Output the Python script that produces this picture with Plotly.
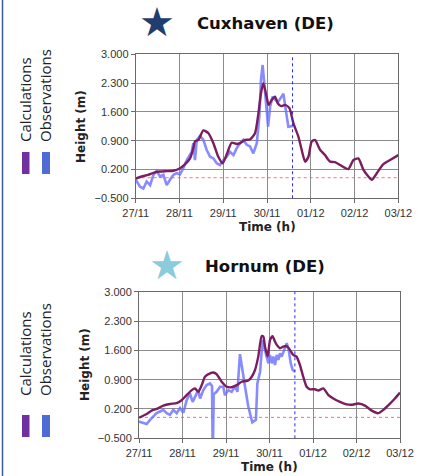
import plotly.graph_objects as go

W, H = 427, 476

# ---------------- data (hours since 27/11 00:00, height in m) ----------------
cux_calc_t = [0, 3.3, 6.9, 9.7, 13.3, 17.0, 20.7, 24.3, 27.1, 29.8, 31.6, 32.5, 34.4, 37.1, 39.9,
              42.6, 45.3, 47.7, 50.1, 52.6, 55.4, 57.2, 60.0, 62.7, 65.4, 67.3, 68.7, 70.0, 71.8,
              72.9, 74.6, 76.4, 77.9, 79.7, 81.9, 84.3, 86.5, 89.2, 91.0, 92.9, 94.7, 96.5, 98.3,
              101.1, 103.8, 106.6, 109.3, 112.1, 116.6, 119.4, 122.1, 124.9, 127.6, 129.5, 132.2,
              135.8, 139.5, 144]
cux_calc_h = [-0.02, 0.03, 0.07, 0.12, 0.15, 0.16, 0.17, 0.23, 0.33, 0.47, 0.72, 0.88, 0.92, 1.15,
              1.08, 0.84, 0.51, 0.35, 0.59, 0.85, 0.82, 0.84, 0.92, 0.93, 1.08, 1.57, 2.05, 2.30,
              1.97, 1.77, 1.89, 1.97, 1.81, 1.74, 1.77, 1.69, 1.32, 1.00, 0.68, 0.39, 0.51, 0.88,
              0.92, 0.68, 0.55, 0.39, 0.38, 0.31, 0.21, 0.43, 0.47, 0.19, 0.03, -0.05, 0.11, 0.33,
              0.43, 0.55]

cux_obs_t = [0, 2.4, 4.2, 6.0, 7.9, 9.7, 11.5, 13.3, 15.2, 17.0, 18.8, 20.7, 22.5, 24.3, 26.1,
             28.0, 30.7, 31.6, 32.5, 33.5, 35.3, 37.1, 38.9, 40.8, 42.6, 44.4, 46.2, 48.1, 49.9,
             51.7, 53.6, 55.4, 57.2, 59.0, 60.9, 62.7, 64.5, 66.4, 67.8, 68.7, 69.6, 70.6, 71.8,
             72.6, 73.7, 75.1, 76.6, 78.2, 79.7, 81.0, 82.3, 83.7, 86.1]
cux_obs_h = [-0.05, -0.22, -0.26, -0.09, -0.18, 0.07, 0.17, 0.03, 0.07, -0.18, -0.05, 0.07, 0.11,
             0.08, 0.23, 0.43, 0.63, 0.84, 0.43, 0.92, 1.02, 0.92, 0.68, 0.51, 0.47, 0.35, 0.31,
             0.43, 0.51, 0.63, 0.55, 0.72, 0.84, 0.92, 0.80, 0.76, 0.59, 0.84, 1.49, 2.38, 2.74,
             2.30, 1.65, 1.24, 1.73, 1.97, 1.89, 1.85, 1.97, 2.04, 1.65, 1.24, 1.26]

hor_calc_t = [0, 4.2, 7.0, 9.7, 13.4, 17.1, 20.8, 23.5, 26.3, 29.1, 30.9, 32.7, 34.6, 36.4, 39.2,
              41.0, 42.8, 45.6, 48.4, 51.1, 53.9, 56.6, 60.3, 62.2, 64.0, 65.8, 67.7, 68.6, 69.5,
              71.0, 72.3, 73.7, 75.0, 76.0, 77.8, 79.6, 81.5, 83.3, 85.1, 86.9, 88.8, 90.6, 92.5,
              94.3, 97.1, 98.9, 101.7, 104.5, 107.2, 110.9, 114.6, 117.3, 121.0, 124.7, 128.4,
              132.0, 134.8, 138.5, 141.2, 144]
hor_calc_h = [-0.01, 0.08, 0.16, 0.20, 0.28, 0.32, 0.34, 0.41, 0.53, 0.65, 0.69, 0.61, 0.77, 0.97,
              1.05, 1.07, 1.03, 0.85, 0.73, 0.72, 0.77, 0.85, 0.88, 0.97, 1.13, 1.45, 1.94, 1.93,
              1.69, 1.45, 1.85, 1.94, 1.81, 1.73, 1.65, 1.69, 1.70, 1.61, 1.49, 1.45, 1.25, 0.97,
              0.73, 0.67, 0.67, 0.64, 0.69, 0.53, 0.45, 0.37, 0.31, 0.30, 0.33, 0.28, 0.16, 0.10,
              0.18, 0.33, 0.45, 0.59]

hor_obs_t = [0, 2.4, 4.2, 6.1, 7.9, 9.7, 11.6, 13.4, 15.3, 17.1, 18.9, 20.8, 22.6, 24.5, 26.3,
             28.1, 29.6, 30.9, 32.7, 33.7, 35.5, 37.3, 39.2, 40.3, 40.7, 41.2, 42.8, 44.7, 46.5,
             47.4, 49.3, 51.1, 53.0, 54.3, 55.7, 58.5, 60.3, 62.5, 64.5, 65.3, 66.8, 68.2, 69.5,
             70.4, 71.4, 72.3, 73.2, 74.1, 75.0, 76.0, 76.9, 77.8, 78.7, 80.0, 81.5, 82.6, 83.7,
             84.8, 86.1]
hor_obs_h = [-0.10, -0.13, -0.16, -0.06, 0.03, 0.10, 0.14, 0.18, 0.10, 0.06, 0.18, 0.10, 0.22,
             0.11, 0.41, 0.57, 0.37, 0.49, 0.65, 0.45, 0.65, 0.77, 0.81, 0.75, -1.0, 0.55, 0.61,
             0.73, 0.73, 0.53, 0.65, 0.61, 0.73, 0.61, 1.51, 0.73, 0.26, -0.12, -0.06, 0.81, 1.09,
             1.85, 1.57, 1.45, 1.29, 1.49, 1.29, 1.45, 1.25, 1.49, 1.37, 1.53, 1.45, 1.61, 1.77,
             1.61, 1.29, 1.13, 1.09]

day_ticks = [0, 24, 48, 72, 96, 120, 144]
day_labels = ["27/11", "28/11", "29/11", "30/11", "01/12", "02/12", "03/12"]
height_ticks = [-0.5, 0.2, 0.9, 1.6, 2.3, 3.0]
forecast_start = 86
titles = ["Cuxhaven (DE)", "Hornum (DE)"]
star_colors = ["#1f3d6e", "#8ccbdc"]

CALC = "#7b1e5f"
OBS = "rgba(105,110,255,0.8)"
CALC_BAR = "#7030a0"
OBS_BAR = "#4f6cd6"


def px(x):
    return x / W


def py(y):
    return 1 - y / H


fig = go.Figure()

# panel geometry in pixels: (left, right, top, bottom)
panels = [(135.7, 398.3, 54.3, 198.3), (139.0, 400.0, 291.7, 438.3)]
data = [(cux_calc_t, cux_calc_h, cux_obs_t, cux_obs_h),
        (hor_calc_t, hor_calc_h, hor_obs_t, hor_obs_h)]

annotations = []
shapes = []
for i, ((l, r, t, b), (ct, ch, ot, oh)) in enumerate(zip(panels, data)):
    xa = "x" if i == 0 else "x2"
    ya = "y" if i == 0 else "y2"
    fig.add_trace(go.Scatter(x=ot, y=oh, mode="lines", line=dict(color=OBS, width=2.6),
                             xaxis=xa, yaxis=ya, showlegend=False, hoverinfo="skip"))
    fig.add_trace(go.Scatter(x=ct, y=ch, mode="lines", line=dict(color=CALC, width=2.4, shape="spline", smoothing=0.6),
                             xaxis=xa, yaxis=ya, showlegend=False, hoverinfo="skip"))
    axis_common = dict(showgrid=True, gridcolor="#8c8c8c", gridwidth=1, showline=True,
                       linecolor="#6a6a6a", linewidth=1, mirror=True, ticks="outside",
                       ticklen=4, tickcolor="#6a6a6a", automargin=False,
                       tickfont=dict(family="Liberation Sans, Arial", size=11, color="#333"),
                       zeroline=False, fixedrange=True)
    xkey = "xaxis" if i == 0 else "xaxis2"
    ykey = "yaxis" if i == 0 else "yaxis2"
    fig.layout[xkey] = dict(axis_common, domain=[px(l), px(r)], range=[0, 144],
                            tickvals=day_ticks, ticktext=day_labels, anchor=ya)
    fig.layout[ykey] = dict(axis_common, domain=[py(b), py(t)], range=[-0.5, 3.0],
                            tickvals=height_ticks, tickformat=".3f", anchor=xa)
    # reference lines
    shapes.append(dict(type="line", xref=xa, yref=ya, x0=0, x1=144, y0=0, y1=0, layer="below",
                       line=dict(color="#ff6f6f", width=1, dash="dot")))
    shapes.append(dict(type="line", xref=xa, yref=ya, x0=forecast_start, x1=forecast_start,
                       y0=-0.5, y1=3.0, line=dict(color="#2a2aff", width=1, dash="dot")))
    # axis titles
    annotations.append(dict(text="<b>Height (m)</b>", xref="paper", yref="paper",
                            x=px(l - 54), y=py((t + b) / 2), textangle=-90, showarrow=False,
                            xanchor="center", yanchor="middle",
                            font=dict(family="DejaVu Sans", size=12, color="#222")))
    annotations.append(dict(text="<b>Time (h)</b>", xref="paper", yref="paper",
                            x=px((l + r) / 2), y=py(b + 29), showarrow=False,
                            xanchor="center", yanchor="middle",
                            font=dict(family="DejaVu Sans", size=12, color="#222")))
    # titles + star
    ty = 23 if i == 0 else 266
    annotations.append(dict(text="<b>" + titles[i] + "</b>", xref="paper", yref="paper",
                            x=px(265), y=py(ty), showarrow=False, xanchor="center", yanchor="middle",
                            font=dict(family="DejaVu Sans", size=16.5, color="#111")))
    annotations.append(dict(text="\u2605", xref="paper", yref="paper",
                            x=px(157 if i == 0 else 167), y=py(ty - 1), showarrow=False,
                            xanchor="center", yanchor="middle",
                            font=dict(family="DejaVu Sans", size=40, color=star_colors[i])))
    # side legend
    leg_mid = 98 if i == 0 else 352
    annotations.append(dict(text="Calculations", xref="paper", yref="paper",
                            x=px(25), y=py(leg_mid + 2), textangle=-90, showarrow=False,
                            xanchor="center", yanchor="middle",
                            font=dict(family="Open Sans", size=15, color="#222")))
    annotations.append(dict(text="Observations", xref="paper", yref="paper",
                            x=px(45), y=py(leg_mid - 2), textangle=-90, showarrow=False,
                            xanchor="center", yanchor="middle",
                            font=dict(family="Open Sans", size=15, color="#222")))
    bt, bb = (152, 174) if i == 0 else (415, 437)
    shapes.append(dict(type="rect", xref="paper", yref="paper", x0=px(22), x1=px(29.5),
                       y0=py(bb), y1=py(bt), fillcolor=CALC_BAR, line=dict(width=0)))
    shapes.append(dict(type="rect", xref="paper", yref="paper", x0=px(42), x1=px(50),
                       y0=py(bb), y1=py(bt), fillcolor=OBS_BAR, line=dict(width=0)))

# left frame line
shapes.append(dict(type="line", xref="paper", yref="paper", x0=px(2.5), x1=px(2.5), y0=0, y1=1,
                   line=dict(color="#3a5a9a", width=1.5)))

fig.update_layout(width=W, height=H, margin=dict(l=0, r=0, t=0, b=0, autoexpand=False),
                  paper_bgcolor="white", plot_bgcolor="white", hovermode=False,
                  annotations=annotations, shapes=shapes, showlegend=False)

fig.write_html("out.html", config={"displayModeBar": False, "staticPlot": True},
               post_script="document.body.style.margin='0px';document.body.style.overflow='hidden';")
